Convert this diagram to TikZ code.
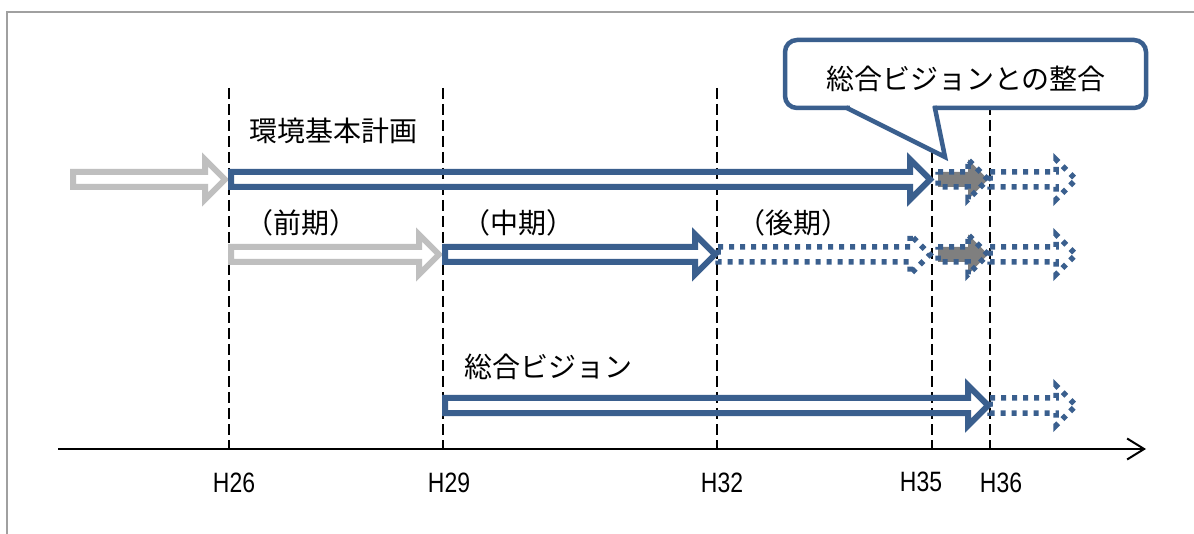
\documentclass[tikz,border=0pt]{standalone}
\usepackage{fontspec}
\newfontfamily\jp{Noto Sans CJK JP}
\newfontfamily\narrowfont[FakeStretch=0.82]{Liberation Sans}
\usetikzlibrary{arrows.meta}
\definecolor{bblue}{HTML}{3A5F8E}
\definecolor{lgray}{HTML}{BFBFBF}
\definecolor{dgray}{HTML}{7F7F7F}
\definecolor{framegray}{HTML}{A0A0A0}
\newcommand\blockarr[4]{%
  \draw[#1] (#2,{#4-7.5}) -- ({#3-20},{#4-7.5}) -- ({#3-20},{#4-20}) -- (#3,#4) -- ({#3-20},{#4+20}) -- ({#3-20},{#4+7.5}) -- (#2,{#4+7.5}) -- cycle;}
\begin{document}
\begin{tikzpicture}[x=1pt,y=-1pt,
  solidblue/.style={draw=bblue, line width=6pt, line join=miter},
  ghost/.style={draw=lgray, line width=6pt, line join=miter},
  dotblue/.style={draw=bblue, line width=5.5pt, dash pattern=on 5pt off 6pt, line join=miter},
  dotgray/.style={dotblue, fill=dgray},
  jt/.style={font=\jp\fontsize{28}{32}\selectfont, inner sep=0pt, text=black},
  ht/.style={font=\narrowfont\fontsize{28}{32}\selectfont, inner sep=0pt, text=black},
  guide/.style={black, line width=2.2pt, dash pattern=on 11pt off 5pt},
  axisline/.style={black, line width=2pt, -{Straight Barb[length=17pt,width=21pt]}},
  callout/.style={draw=bblue, line width=4.5pt, fill=white, rounded corners=12pt}
]
\useasboundingbox (0,0) rectangle (1194,534);
\fill[white] (0,0) rectangle (1194,534);
% frame
\draw[framegray, line width=2pt] (7,534) -- (7,12) -- (1194,12);
% guides
\foreach \x/\n in {229/26,443/29,717/32,932/35,990/36}{
  \coordinate (top\n) at (\x,88);
  \coordinate (bot\n) at (\x,448);
  \draw[guide] (top\n) -- (bot\n);
}
% axis
\coordinate (axL) at (58,449);
\coordinate (axR) at (1146,449);
\draw[axisline] (axL) -- (axR);
% labels
\node[ht] (h26) at (234,483) {H26};
\node[ht] (h29) at (449,483) {H29};
\node[ht] (h32) at (722,483) {H32};
\node[ht] (h35) at (921,482) {H35};
\node[ht] (h36) at (1001,483) {H36};
% row 1
\blockarr{ghost}{73}{225}{179.5}
\blockarr{solidblue}{231}{930}{179.5}
\blockarr{dotgray}{938}{988}{179.5}
\blockarr{dotblue}{990}{1076}{179.5}
% row 2
\blockarr{ghost}{231}{439}{254.5}
\blockarr{solidblue}{445}{715}{254.5}
\blockarr{dotblue}{718}{930}{254.5}
\blockarr{dotgray}{938}{988}{254.5}
\blockarr{dotblue}{990}{1076}{254.5}
% row 3
\blockarr{solidblue}{445}{988}{405.5}
\blockarr{dotblue}{990}{1076}{405.5}
% texts
\node[jt] (kankyo) at (333,131) {環境基本計画};
\node[jt] (zenki) at (301,223) {（前期）};
\node[jt] (chuki) at (518,223) {（中期）};
\node[jt] (koki) at (793,223) {（後期）};
\node[jt] (sogo) at (548,367) {総合ビジョン};
% callout
\draw[callout] (785,40) rectangle (1146,108);
\fill[white] (847,108) -- (945,157) -- (935,108) -- cycle;
\fill[white] (849.5,104) rectangle (933,111);
\draw[draw=bblue, line width=4.5pt, line join=miter] (846,107.5) -- (945,157) -- (934.5,106);
\node[jt] (calltext) at (966,79) {総合ビジョンとの整合};
\end{tikzpicture}
\end{document}
